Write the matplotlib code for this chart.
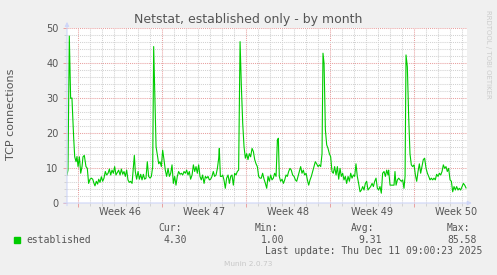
import matplotlib
matplotlib.use("Agg")
import matplotlib.pyplot as plt
from matplotlib.ticker import MultipleLocator

W, H = 497, 275

# time axis: days since Sun 9 Nov 2025 00:00 (start of week 46)
days = [
    -0.89, -0.81, -0.70, -0.59, -0.48, -0.34, -0.25, -0.14, -0.06, 0.03,
    0.14, 0.25, 0.36, 0.44, 0.55, 0.69, 0.80, 0.91, 1.03, 1.14,
    1.25, 1.36, 1.44, 1.55, 1.66, 1.75, 1.86, 1.97, 2.08, 2.19,
    2.30, 2.41, 2.53, 2.64, 2.75, 2.86, 2.97, 3.08, 3.19, 3.30,
    3.41, 3.53, 3.64, 3.75, 3.86, 3.97, 4.08, 4.19, 4.30, 4.41,
    4.53, 4.64, 4.72, 4.80, 4.91, 5.03, 5.14, 5.25, 5.36, 5.47,
    5.58, 5.69, 5.80, 5.91, 6.03, 6.14, 6.25, 6.33, 6.44, 6.53,
    6.64, 6.75, 6.86, 6.97, 7.08, 7.19, 7.30,
    7.41, 7.53, 7.64, 7.75, 7.86, 7.97, 8.08, 8.19, 8.30, 8.41,
    8.53, 8.64, 8.75, 8.86, 8.97, 9.08, 9.19, 9.30, 9.41, 9.53,
    9.64, 9.75, 9.86, 9.97, 10.08, 10.19, 10.30, 10.41, 10.53, 10.64,
    10.75, 10.86, 10.97, 11.08, 11.19, 11.30, 11.41, 11.53, 11.64, 11.75,
    11.80, 11.89, 12.00, 12.08, 12.19, 12.30, 12.41, 12.53, 12.64, 12.75,
    12.86, 12.97, 13.08, 13.19, 13.30, 13.41, 13.53, 13.64, 13.75, 13.86,
    13.97, 14.08, 14.19, 14.30, 14.41, 14.53, 14.64, 14.75, 14.86, 14.97,
    15.08, 15.19,
    15.30, 15.41, 15.53, 15.64, 15.75, 15.86, 15.97, 16.08, 16.19, 16.30,
    16.41, 16.53, 16.64, 16.72, 16.80, 16.91, 17.03, 17.14, 17.25, 17.36,
    17.47, 17.58, 17.69, 17.80, 17.91, 18.03, 18.14, 18.25, 18.36, 18.47,
    18.58, 18.69, 18.80, 18.91, 19.03, 19.14, 19.25, 19.36, 19.47, 19.58,
    19.69, 19.80, 19.91, 20.03, 20.14, 20.25, 20.36, 20.44, 20.53, 20.64,
    20.75, 20.86, 20.97, 21.08, 21.19, 21.30, 21.41, 21.53, 21.64, 21.75,
    21.86, 21.97, 22.08, 22.19, 22.30, 22.41, 22.53, 22.64, 22.75, 22.86,
    22.97, 23.08, 23.19, 23.30, 23.41, 23.53,
    23.64, 23.75, 23.86, 23.97, 24.08, 24.19, 24.30, 24.41, 24.53, 24.64,
    24.75, 24.86, 24.97, 25.08, 25.19, 25.30, 25.41, 25.53, 25.64, 25.75,
    25.86, 25.91, 26.03, 26.36, 26.44, 26.53, 26.64, 26.75, 26.86, 26.97,
    27.08, 27.19, 27.28, 27.36, 27.47, 27.58, 27.69, 27.80, 27.91, 28.03,
    28.14, 28.25, 28.36, 28.47, 28.58, 28.69, 28.80, 28.91, 29.03, 29.14,
    29.25, 29.36, 29.47, 29.58, 29.69, 29.80, 29.91, 30.03, 30.14, 30.25,
    30.36, 30.47, 30.58, 30.69, 30.80, 30.91, 31.03, 31.14, 31.25, 31.36,
    31.47, 31.58, 31.69, 31.80, 31.91, 32.03, 32.14, 32.25, 32.36,
]
established = [
    8.0, 9.4, 47.7, 29.9, 30.0, 18.9, 13.2, 11.8, 13.3, 10.4,
    13.2, 8.5, 10.4, 13.2, 13.6, 10.4, 9.9, 5.6, 6.8, 7.1,
    6.8, 5.6, 4.9, 6.2, 5.4, 6.8, 5.9, 7.5, 6.2, 7.1,
    9.0, 8.0, 8.5, 9.7, 8.0, 9.4, 8.5, 10.4, 8.0, 8.7,
    9.4, 8.0, 9.7, 8.2, 9.0, 7.6, 9.4, 6.6, 5.9, 6.2,
    5.6, 10.4, 13.6, 9.0, 6.8, 9.0, 6.8, 8.2, 6.6, 8.2,
    6.8, 7.1, 11.8, 7.6, 7.1, 7.6, 10.4, 44.7, 28.5, 16.1,
    13.6, 11.2, 11.8, 10.4, 15.1, 12.4, 9.4,
    7.6, 9.9, 7.6, 8.5, 10.9, 5.6, 7.6, 5.1, 7.6, 9.0,
    8.2, 8.5, 8.0, 9.0, 8.5, 9.4, 8.0, 9.0, 6.8, 8.0,
    10.9, 9.0, 10.4, 8.5, 10.9, 7.6, 6.6, 8.0, 5.6, 7.6,
    7.1, 7.6, 6.6, 6.8, 7.6, 9.0, 7.6, 8.0, 9.9, 12.8,
    15.6, 7.6, 7.6, 8.0, 6.6, 4.2, 7.1, 8.0, 5.6, 7.6,
    8.0, 5.1, 8.5, 8.0, 9.0, 9.4, 46.1, 33.2, 22.8, 16.1,
    12.8, 14.1, 12.4, 14.1, 13.2, 15.6, 14.7, 12.4, 11.2, 10.4,
    7.6, 7.1,
    7.1, 8.5, 6.8, 5.6, 4.2, 7.6, 6.2, 8.0, 6.6, 7.1,
    8.5, 7.6, 18.0, 18.5, 7.6, 6.2, 6.8, 5.6, 6.6, 8.0,
    7.6, 9.0, 9.9, 9.4, 8.0, 7.6, 6.6, 6.2, 7.6, 9.0,
    10.4, 8.5, 9.4, 8.0, 8.5, 6.6, 5.1, 6.6, 7.6, 9.0,
    10.4, 11.8, 11.2, 10.4, 10.9, 10.4, 14.1, 42.8, 39.9, 20.9,
    16.6, 15.6, 14.1, 13.2, 9.0, 8.5, 10.4, 8.0, 10.4, 6.8,
    9.9, 7.6, 8.5, 6.6, 7.6, 5.6, 7.6, 6.2, 8.5, 7.1,
    8.0, 7.6, 11.2, 7.6, 5.6, 3.2,
    3.7, 4.7, 3.7, 5.6, 6.2, 3.7, 4.2, 4.7, 5.6, 4.7,
    6.2, 7.1, 4.2, 3.7, 4.7, 2.8, 8.5, 9.0, 7.6, 9.4,
    8.0, 9.4, 5.1, 5.1, 9.0, 5.1, 6.6, 7.1, 6.6, 6.2,
    6.6, 4.2, 7.6, 42.3, 38.9, 24.7, 14.1, 10.9, 10.4, 10.9,
    8.0, 6.2, 9.0, 11.2, 8.5, 10.4, 12.4, 12.8, 9.9, 8.5,
    7.6, 6.6, 7.1, 6.6, 7.1, 6.6, 8.2, 7.6, 8.5, 8.0,
    9.0, 10.9, 9.9, 10.4, 9.0, 9.9, 6.6, 6.2, 3.2, 4.7,
    3.7, 4.7, 3.7, 4.2, 3.7, 4.7, 5.6, 5.1, 4.3,
]

week_labels = ["Week 46", "Week 47", "Week 48", "Week 49", "Week 50"]
week_starts = [0, 7, 14, 21, 28]
stat_names = ["Cur:", "Min:", "Avg:", "Max:"]
stat_values = ["4.30", "1.00", "9.31", "85.58"]
last_update = "Last update: Thu Dec 11 09:00:23 2025"

BACK = "#f0f0f0"
FONT = "#555555"
AXIS = "#cfd6f8"
LINE = "#00cc00"
MGRID = "#e8a0a0"
GRID = "#d2d2d2"


def px(x, y):
    """pixel position in the 497x275 image -> figure fraction"""
    return x / W, 1 - y / H


fig = plt.figure(figsize=(W / 100, H / 100), dpi=100)
fig.patch.set_facecolor(BACK)
# canvas: x 67..467 px, y 28..203 px
ax = fig.add_axes([67 / W, 1 - 203 / H, 400 / W, 175 / H])
ax.set_facecolor("white")
for s in ax.spines.values():
    s.set_visible(False)

ax.plot(days, established, color=LINE, lw=0.8, zorder=3)
ax.set_xlim(-0.892, -0.892 + 400 / 12)
ax.set_ylim(0, 50)

ax.set_xticks(week_starts)
ax.set_xticklabels([])
ax.xaxis.set_minor_locator(MultipleLocator(1))
ax.yaxis.set_major_locator(MultipleLocator(10))
ax.yaxis.set_minor_locator(MultipleLocator(2))
ax.grid(which="minor", color=GRID, lw=0.75, ls=(0, (1, 1)))
ax.grid(which="major", color=MGRID, lw=0.75, ls=(0, (1, 1)))
ax.set_axisbelow(True)
ax.tick_params(which="major", color=MGRID, length=3, width=0.7,
               labelsize=7, labelcolor=FONT)
ax.tick_params(which="minor", color=GRID, length=2, width=0.7)
ax.tick_params(axis="y", pad=3)

for lab, start in zip(week_labels, week_starts):
    ax.text(start + 3.5, -0.05, lab, transform=ax.get_xaxis_transform(),
            ha="center", va="center", fontsize=7, color=FONT)

# axes with arrow heads
ax.annotate("", xy=(1.012, 0), xytext=(-0.008, 0), xycoords="axes fraction",
            arrowprops=dict(arrowstyle="-|>", color=AXIS, lw=0.8,
                            mutation_scale=6, shrinkA=0, shrinkB=0),
            annotation_clip=False)
ax.annotate("", xy=(0, 1.035), xytext=(0, -0.015), xycoords="axes fraction",
            arrowprops=dict(arrowstyle="-|>", color=AXIS, lw=0.8,
                            mutation_scale=6, shrinkA=0, shrinkB=0),
            annotation_clip=False)

fig.text(*px(248.5, 19), "Netstat, established only - by month",
         ha="center", va="center", fontsize=9, color=FONT)
fig.text(*px(11, 114), "TCP connections", rotation=90,
         ha="center", va="center", fontsize=8, color=FONT)
fig.text(*px(488, 54), "RRDTOOL / TOBI OETIKER", rotation=270,
         ha="center", va="center", fontsize=5, color="#cccccc")

mono = "DejaVu Sans Mono"
fig.patches.append(plt.Rectangle(px(14, 243), 6 / W, 6 / H, color=LINE,
                                 transform=fig.transFigure, figure=fig))
fig.text(*px(26, 240), "established", ha="left", va="center",
         fontsize=7, family=mono, color=FONT)
for name, val, xh, xv in zip(stat_names, stat_values,
                             [158, 255, 351, 447], [164, 261, 358, 447]):
    fig.text(*px(xh, 228), name, ha="left", va="center",
             fontsize=7, family=mono, color=FONT)
    fig.text(*px(xv, 240), val, ha="left", va="center",
             fontsize=7, family=mono, color=FONT)
fig.text(*px(482, 251.5), last_update, ha="right", va="center",
         fontsize=7, family=mono, color=FONT)
fig.text(*px(248, 264), "Munin 2.0.73", ha="center", va="center",
         fontsize=5.3, color="#c8c8c8")

fig.savefig("out.png", dpi=100, facecolor=BACK)
